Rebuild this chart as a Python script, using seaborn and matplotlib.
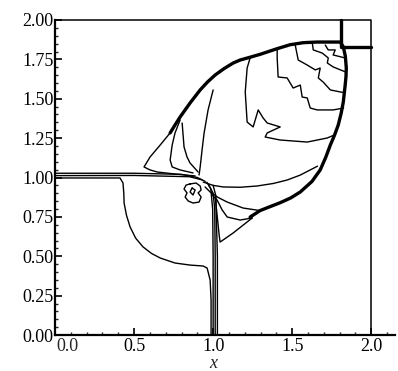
import numpy as np
import matplotlib
matplotlib.use("Agg")
import matplotlib.pyplot as plt
import seaborn as sns
from matplotlib.ticker import MultipleLocator, FormatStrFormatter, FuncFormatter

sns.set_style("ticks")
plt.rcParams["font.family"] = ["Liberation Serif", "DejaVu Serif"]

# ---- contour lines (x, y) ----
bow_shock = [(0.728, 1.283), (0.760, 1.335), (0.791, 1.384), (0.854, 1.473), (0.918, 1.556),
             (0.965, 1.607), (1.013, 1.651), (1.070, 1.692), (1.127, 1.727), (1.171, 1.746),
             (1.235, 1.764), (1.297, 1.782), (1.405, 1.818), (1.487, 1.843), (1.570, 1.856),
             (1.658, 1.860), (1.804, 1.860), (1.823, 1.830), (1.836, 1.770), (1.842, 1.695),
             (1.840, 1.640), (1.835, 1.587), (1.823, 1.479), (1.810, 1.410), (1.791, 1.333),
             (1.768, 1.270), (1.741, 1.206), (1.712, 1.128), (1.677, 1.048), (1.625, 0.975),
             (1.551, 0.908), (1.490, 0.870), (1.424, 0.840), (1.360, 0.815), (1.297, 0.790),
             (1.234, 0.749)]
bow_tail = [(0.728, 1.283), (0.665, 1.206), (0.601, 1.130), (0.563, 1.067), (0.601, 1.048),
            (0.646, 1.035), (0.759, 1.022), (0.886, 1.010)]
inner_l1 = [(0.791, 1.365), (0.759, 1.283), (0.741, 1.206), (0.728, 1.111), (0.741, 1.067),
            (0.791, 1.048), (0.873, 1.029)]
inner_l2 = [(0.804, 1.346), (0.810, 1.270), (0.816, 1.194), (0.835, 1.130), (0.854, 1.092),
            (0.905, 1.035)]
inner_l3 = [(1.0, 1.556), (0.968, 1.429), (0.943, 1.283), (0.930, 1.175), (0.918, 1.067),
            (0.911, 1.016)]
arc_r1 = [(0.937, 0.971), (1.000, 0.950), (1.063, 0.940), (1.170, 0.938), (1.278, 0.946),
          (1.380, 0.962), (1.468, 0.984), (1.550, 1.015), (1.614, 1.048), (1.660, 1.072)]
arc_r2 = [(0.949, 0.940), (0.981, 0.908), (1.030, 0.874), (1.089, 0.844), (1.190, 0.806),
          (1.297, 0.790)]
arc_r2b = [(0.994, 0.889), (1.025, 0.857), (1.057, 0.794), (1.089, 0.749), (1.171, 0.730),
           (1.247, 0.743)]
tip_r3 = [(1.013, 0.876), (1.025, 0.762), (1.038, 0.635), (1.044, 0.590), (1.127, 0.648),
          (1.247, 0.743)]
jag_1 = [(1.709, 1.841), (1.728, 1.810), (1.772, 1.810), (1.759, 1.778), (1.835, 1.759)]
jag_2 = [(1.627, 1.854), (1.633, 1.810), (1.690, 1.790), (1.728, 1.759), (1.722, 1.727),
         (1.759, 1.702), (1.838, 1.670)]
jag_3 = [(1.519, 1.841), (1.538, 1.746), (1.595, 1.714), (1.646, 1.683), (1.677, 1.695),
         (1.665, 1.632), (1.696, 1.606), (1.741, 1.556), (1.835, 1.537)]
jag_4 = [(1.405, 1.815), (1.405, 1.759), (1.411, 1.638), (1.468, 1.632), (1.506, 1.568),
         (1.551, 1.587), (1.563, 1.511), (1.595, 1.505), (1.614, 1.441), (1.658, 1.429),
         (1.759, 1.429), (1.825, 1.441)]
jag_5 = [(1.234, 1.760), (1.215, 1.695), (1.203, 1.543), (1.215, 1.352), (1.253, 1.321),
         (1.285, 1.429), (1.316, 1.378), (1.342, 1.346), (1.424, 1.321), (1.342, 1.283),
         (1.329, 1.257), (1.424, 1.238), (1.595, 1.225), (1.722, 1.251), (1.766, 1.270)]
vortex = [(0.854, 0.959), (0.892, 0.965), (0.918, 0.946), (0.924, 0.921), (0.905, 0.902),
          (0.924, 0.876), (0.911, 0.844), (0.873, 0.838), (0.842, 0.851), (0.823, 0.876),
          (0.835, 0.902), (0.816, 0.927), (0.829, 0.952), (0.854, 0.959)]
vortex_core = [(0.867, 0.933), (0.886, 0.921), (0.873, 0.889), (0.854, 0.908), (0.867, 0.933)]
slip_h1 = [(0.0, 1.027), (0.5, 1.027), (0.8, 1.020), (0.9, 1.000), (0.95, 0.975)]
slip_h2 = [(0.0, 1.012), (0.5, 1.013), (0.85, 1.005), (0.93, 0.985)]
circle = [(0.0, 0.997), (0.411, 0.997), (0.430, 0.965), (0.435, 0.900), (0.437, 0.838),
          (0.452, 0.760), (0.475, 0.686), (0.510, 0.615), (0.557, 0.559), (0.610, 0.518),
          (0.665, 0.489), (0.759, 0.457), (0.854, 0.444), (0.937, 0.438), (0.962, 0.425),
          (0.981, 0.349), (0.987, 0.222), (0.987, 0.0)]
slip_v1 = [(1.000, 0.0), (1.000, 0.5), (0.997, 0.8), (0.985, 0.93), (0.96, 0.97)]
slip_v2 = [(1.013, 0.0), (1.013, 0.5), (1.010, 0.8), (1.000, 0.90), (0.97, 0.955)]
slip_v3 = [(1.027, 0.0), (1.027, 0.5), (1.020, 0.75), (1.018, 0.88), (1.0, 0.95)]
corner_box = [(1.808, 2.0), (1.808, 1.830), (2.0, 1.830)]
domain = [(0.0, 2.0), (2.0, 2.0), (2.0, 0.0)]

thin = [bow_tail, inner_l1, inner_l2, inner_l3, arc_r1, arc_r2, arc_r2b, tip_r3,
        jag_1, jag_2, jag_3, jag_4, jag_5, vortex, vortex_core,
        slip_h1, slip_h2, circle, slip_v1, slip_v2, slip_v3]
thick = [bow_shock, corner_box]

fig = plt.figure(figsize=(3.98, 3.71), dpi=100)
ax = fig.add_axes([55 / 398, 36 / 371, 340 / 398, 315 / 371])


def draw(pts, lw):
    xs = [p[0] for p in pts]
    ys = [p[1] for p in pts]
    sns.lineplot(x=xs, y=ys, sort=False, estimator=None, color="black",
                 lw=lw, ax=ax, clip_on=False)


for c in thin:
    draw(c, 1.0)
for c in thick:
    draw(c, 2.4)
draw(domain, 1.1)

ax.set_xlim(0, 2.15)
ax.set_ylim(0, 2.0)
ax.xaxis.set_major_locator(MultipleLocator(0.5))
ax.xaxis.set_minor_locator(MultipleLocator(0.1))
ax.yaxis.set_major_locator(MultipleLocator(0.25))
ax.yaxis.set_minor_locator(MultipleLocator(0.05))
# the "0.0" label is placed separately, shifted right of the origin
ax.xaxis.set_major_formatter(FuncFormatter(lambda v, p: "" if abs(v) < 1e-9 else f"{v:.1f}"))
ax.yaxis.set_major_formatter(FormatStrFormatter("%.2f"))
ax.tick_params(which="major", direction="in", length=5, width=1.2, labelsize=13,
               colors="black")
ax.tick_params(axis="x", pad=2)
ax.tick_params(axis="y", pad=1)
ax.tick_params(which="minor", direction="in", length=2.5, width=1.0)
sns.despine(ax=ax)
for s in ["left", "bottom"]:
    ax.spines[s].set_linewidth(1.6)
    ax.spines[s].set_color("black")

ax.annotate("0.0", xy=(0.0, 0.0), xycoords=("data", "axes fraction"),
            xytext=(1, -2.5), textcoords="offset points",
            ha="left", va="top", fontsize=13)

ax.set_xlabel("x", style="italic", fontsize=13, labelpad=0)
ax.xaxis.set_label_coords(1.0 / 2.15, -0.062)

fig.savefig("out.png", dpi=100)
